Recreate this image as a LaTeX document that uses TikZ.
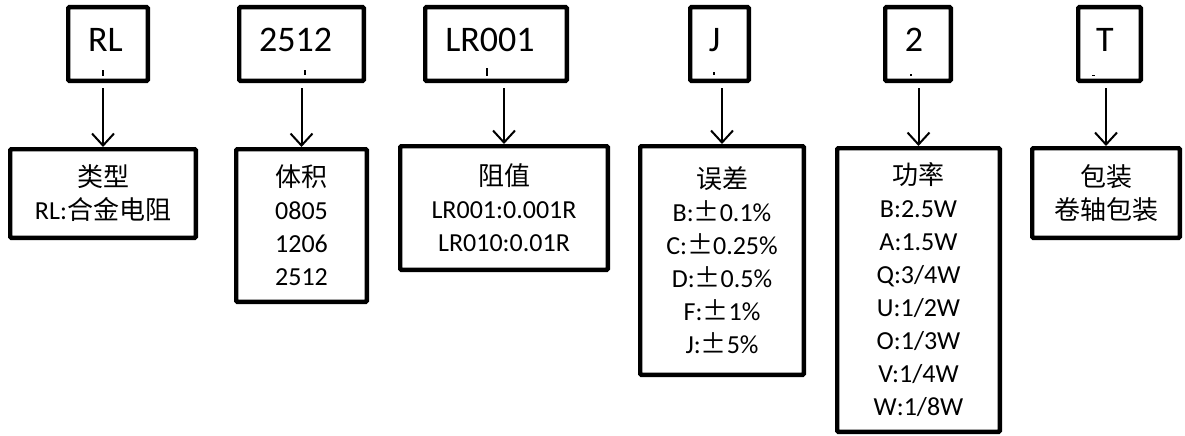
\documentclass[tikz,border=0pt]{standalone}
\usepackage{fontspec}
\setmainfont{Carlito}
\newfontfamily\cjk{Noto Sans CJK SC}
\usetikzlibrary{arrows.meta,calc}
\tikzset{
  box/.style={draw, line width=4.3pt, rounded corners=1.2pt, inner sep=0pt, align=center,
    font=\fontsize{26}{33}\selectfont},
  toptext/.style={anchor=base, inner sep=0pt, font=\fontsize{36}{40}\selectfont},
  arr/.style={line width=2pt, -{Straight Barb[length=12pt,width=22pt]}},
  mark/.style={fill=black}
}
\begin{document}
\begin{tikzpicture}[x=1pt,y=-1pt]
\useasboundingbox (0,0) rectangle (1185,436);
% top boxes
\node[box, minimum width=79.7pt, minimum height=73.7pt] (t1) at (108,44) {};
\node[box, minimum width=124.7pt, minimum height=73.7pt] (t2) at (301.5,44) {};
\node[box, minimum width=141.7pt, minimum height=73.7pt] (t3) at (496,44) {};
\node[box, minimum width=58.7pt, minimum height=73.7pt] (t4) at (719.5,44) {};
\node[box, minimum width=65.7pt, minimum height=73.7pt] (t5) at (918,44) {};
\node[box, minimum width=62.7pt, minimum height=73.7pt] (t6) at (1109.5,44) {};
% top texts
\node[toptext] (l1) at (105.5,52) {RL};
\node[toptext] (l2) at (295.5,52) {2512};
\node[toptext] (l3) at (490,52) {LR001};
\node[toptext] (l4) at (714.7,52) {J};
\node[toptext] (l5) at (914,52) {2};
\node[toptext] (l6) at (1105,52) {T};
% tiny marks
\fill (102,70) rectangle (104,76);
\fill (304,70) rectangle (306,75);
\fill (486,68) rectangle (488,76);
\fill (713,72) rectangle (715,75);
\fill (910,74) rectangle (912,76);
\fill (1092,74.5) rectangle (1095,75.5);
% bottom boxes
\node[box, minimum width=185.7pt, minimum height=88.7pt] (b1) at (103,193.5)
  {{\cjk 类型}\\RL:{\cjk 合金电阻}};
\node[box, minimum width=130.7pt, minimum height=152.7pt] (b2) at (301.5,225.5)
  {{\cjk 体积}\\0805\\1206\\2512};
\node[box, minimum width=207.7pt, minimum height=123.7pt] (b3) at (504,208)
  {{\cjk 阻值}\\LR001:0.001R\\LR010:0.01R};
\node[box, minimum width=163.7pt, minimum height=228.7pt] (b4) at (722,260.5)
  {{\cjk 误差}\\B:{\cjk ±}0.1\%\\C:{\cjk ±}0.25\%\\D:{\cjk ±}0.5\%\\F:{\cjk ±}1\%\\J:{\cjk ±}5\%};
\node[box, minimum width=162.7pt, minimum height=283.7pt] (b5) at (918.5,290)
  {{\cjk 功率}\\B:2.5W\\A:1.5W\\Q:3/4W\\U:1/2W\\O:1/3W\\V:1/4W\\W:1/8W};
\node[box, minimum width=147.7pt, minimum height=89.7pt] (b6) at (1106,193)
  {{\cjk 包装}\\{\cjk 卷轴包装}};
% arrows
\foreach \i in {1,...,6}{
  \draw[arr] ($(b\i.north |- t\i.south)+(0,5)$) -- (b\i.north);
}
\end{tikzpicture}
\end{document}
